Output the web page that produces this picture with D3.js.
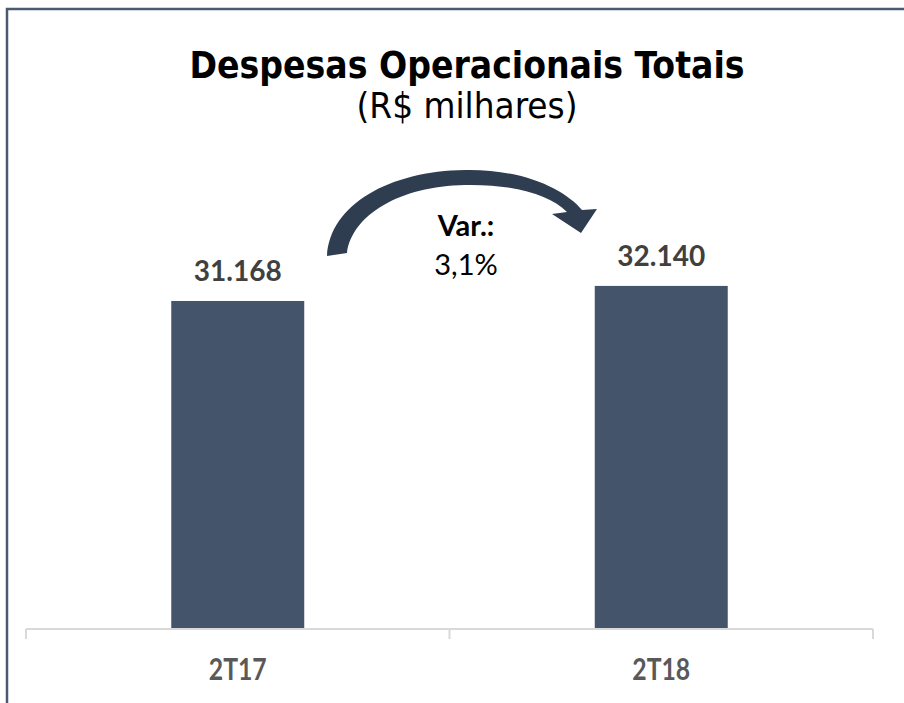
<!DOCTYPE html>
<html>
<head>
<meta charset="utf-8">
<script src="https://cdn.jsdelivr.net/npm/d3@7"></script>
<style>
  body { margin: 0; background: #fff; }
  svg { display: block; }
</style>
</head>
<body>
<div id="chartArea"></div>
<script>
// data
const categories = ["2T17", "2T18"];
const values = [31168, 32140];
const valueLabels = ["31.168", "32.140"];
const varLabel = "Var.:";
const varValue = "3,1%";

const W = 904, H = 703;

const svg = d3.select("#chartArea").append("svg")
  .attr("width", W)
  .attr("height", H);

// outer frame (runs off the right and bottom)
svg.append("rect")
  .attr("x", 7).attr("y", 9)
  .attr("width", 1000).attr("height", 1000)
  .attr("fill", "none")
  .attr("stroke", "#4b5a70")
  .attr("stroke-width", 2.5);

// scales
const x = d3.scaleBand().domain(categories).range([26, 873]).padding(0);
const y = d3.scaleLinear().domain([10000, 35000]).range([629, 241.6]);
const barW = x.bandwidth() * 0.314;

// title (squeezed to the width of the original)
svg.append("text")
  .attr("x", 467).attr("y", 78)
  .attr("text-anchor", "middle")
  .attr("font-family", "'DejaVu Sans Condensed', 'DejaVu Sans', sans-serif")
  .attr("font-weight", "bold")
  .attr("font-size", 38)
  .attr("textLength", 555)
  .attr("lengthAdjust", "spacingAndGlyphs")
  .attr("fill", "#000")
  .text("Despesas Operacionais Totais");

svg.append("text")
  .attr("x", 467).attr("y", 118)
  .attr("text-anchor", "middle")
  .attr("font-family", "'DejaVu Sans Condensed', 'DejaVu Sans', sans-serif")
  .attr("font-size", 36)
  .attr("textLength", 221)
  .attr("lengthAdjust", "spacingAndGlyphs")
  .attr("fill", "#000")
  .text("(R$ milhares)");

// bars
svg.selectAll("rect.bar")
  .data(values)
  .enter()
  .append("rect")
  .attr("class", "bar")
  .attr("x", (d, i) => x(categories[i]) + x.bandwidth() / 2 - barW / 2)
  .attr("y", d => y(d))
  .attr("width", barW)
  .attr("height", d => y(10000) - y(d))
  .attr("fill", "#44546a");

// value labels
svg.selectAll("text.val")
  .data(values)
  .enter()
  .append("text")
  .attr("class", "val")
  .attr("x", (d, i) => x(categories[i]) + x.bandwidth() / 2)
  .attr("y", d => y(d) - 20)
  .attr("text-anchor", "middle")
  .attr("font-family", "Lato, sans-serif")
  .attr("font-weight", "bold")
  .attr("font-size", 28)
  .attr("fill", "#404040")
  .text((d, i) => valueLabels[i]);

// axis line + ticks at band edges
const axisY = y(10000);
const axisG = svg.append("g").attr("stroke", "#d9d9d9").attr("stroke-width", 2);
axisG.append("line")
  .attr("x1", x.range()[0]).attr("x2", x.range()[1])
  .attr("y1", axisY).attr("y2", axisY);
const tickXs = categories.map(c => x(c)).concat([x.range()[1]]);
axisG.selectAll("line.tick")
  .data(tickXs)
  .enter()
  .append("line")
  .attr("class", "tick")
  .attr("x1", d => d).attr("x2", d => d)
  .attr("y1", axisY).attr("y2", axisY + 10);

// category labels
svg.selectAll("text.cat")
  .data(categories)
  .enter()
  .append("text")
  .attr("class", "cat")
  .attr("x", d => x(d) + x.bandwidth() / 2)
  .attr("y", 680)
  .attr("text-anchor", "middle")
  .attr("font-family", "Lato, sans-serif")
  .attr("font-weight", "bold")
  .attr("font-size", 30)
  .attr("textLength", 58)
  .attr("lengthAdjust", "spacingAndGlyphs")
  .attr("fill", "#595959")
  .text(d => d);

// curved arrow between the bars
svg.append("path")
  .attr("d", "M327,256 C330,204 390,171 465,170 C525,169 565,190 582,210 " +
             "L597,209 L581,233 L552,214 L567,212 " +
             "C550,195 515,184 465,185 C400,186 352,215 347,253 Z")
  .attr("fill", "#2f3d51");

// variation text
svg.append("text")
  .attr("x", 466).attr("y", 236)
  .attr("text-anchor", "middle")
  .attr("font-family", "Lato, sans-serif")
  .attr("font-weight", "bold")
  .attr("font-size", 29)
  .attr("fill", "#000")
  .text(varLabel);

svg.append("text")
  .attr("x", 466).attr("y", 275)
  .attr("text-anchor", "middle")
  .attr("font-family", "Lato, sans-serif")
  .attr("font-size", 29)
  .attr("fill", "#000")
  .text(varValue);
</script>
</body>
</html>
